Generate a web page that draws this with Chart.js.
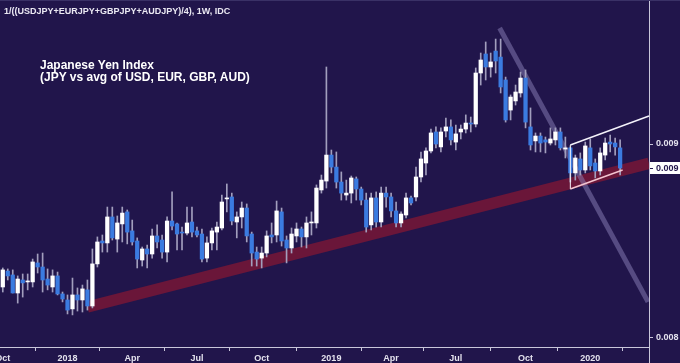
<!DOCTYPE html>
<html>
<head>
<meta charset="utf-8">
<script src="https://cdn.jsdelivr.net/npm/chart.js@4.4.1/dist/chart.umd.min.js"></script>
<style>
    html, body { margin: 0; padding: 0; background: #21154b; }
    #wrap { position: relative; width: 680px; height: 363px; }
    #chart { position: absolute; left: 0; top: 0; }
    .title { position: absolute; left: 4px; top: 7px; font: bold 9px/9px "Liberation Sans", Arial, sans-serif; color: #ebe9f3; white-space: nowrap; }
    .note { position: absolute; left: 40px; top: 59px; font: bold 12px/12px "Liberation Sans", Arial, sans-serif; color: #ffffff; white-space: nowrap; }
</style>
</head>
<body>
<div id="wrap">
    <canvas id="chart" width="680" height="363"></canvas>
    <div class="title">1/((USDJPY+EURJPY+GBPJPY+AUDJPY)/4), 1W, IDC</div>
    <div class="note">Japanese Yen Index<br>(JPY vs avg of USD, EUR, GBP, AUD)</div>
</div>
<script>
// weekly candles, first bar = week of 2 Oct 2017
const opens = [
    0.008263, 0.008345, 0.008325, 0.008232, 0.008299, 0.008289, 0.008289, 0.008387, 0.008366, 0.008304,
    0.008263, 0.008320, 0.008227, 0.008196, 0.008150, 0.008222, 0.008196, 0.008248, 0.008165, 0.008382,
    0.008500, 0.008490, 0.008624, 0.008510, 0.008588, 0.008650, 0.008552, 0.008500, 0.008402, 0.008459,
    0.008433, 0.008526, 0.008505, 0.008443, 0.008603, 0.008588, 0.008546, 0.008541, 0.008598, 0.008552,
    0.008536, 0.008412, 0.008490, 0.008546, 0.008567, 0.008717, 0.008727, 0.008598, 0.008624, 0.008670,
    0.008536, 0.008443, 0.008412, 0.008438, 0.008531, 0.008531, 0.008650, 0.008505, 0.008464, 0.008526,
    0.008562, 0.008521, 0.008593, 0.008593, 0.008763, 0.008809, 0.008943, 0.008881, 0.008804, 0.008737,
    0.008747, 0.008820, 0.008768, 0.008711, 0.008583, 0.008722, 0.008598, 0.008747, 0.008727, 0.008655,
    0.008593, 0.008634, 0.008722, 0.008727, 0.008830, 0.008902, 0.008964, 0.009062, 0.008985, 0.009067,
    0.009088, 0.009010, 0.009062, 0.009077, 0.009108, 0.009103, 0.009366, 0.009464, 0.009397, 0.009479,
    0.009448, 0.009330, 0.009175, 0.009222, 0.009263, 0.009340, 0.009088, 0.009016, 0.009041, 0.009021,
    0.009005, 0.009021, 0.009062, 0.008974, 0.008980, 0.008851, 0.008923, 0.008866, 0.008980, 0.008902,
    0.008861, 0.008943, 0.009010, 0.009005, 0.008980
];
const highs = [
    0.008361, 0.008356, 0.008351, 0.008320, 0.008330, 0.008330, 0.008407, 0.008433, 0.008438, 0.008356,
    0.008351, 0.008340, 0.008237, 0.008222, 0.008309, 0.008258, 0.008273, 0.008299, 0.008459, 0.008521,
    0.008531, 0.008675, 0.008675, 0.008629, 0.008675, 0.008660, 0.008608, 0.008516, 0.008469, 0.008479,
    0.008562, 0.008583, 0.008531, 0.008624, 0.008753, 0.008593, 0.008572, 0.008675, 0.008675, 0.008572,
    0.008562, 0.008521, 0.008567, 0.008598, 0.008737, 0.008794, 0.008747, 0.008650, 0.008701, 0.008691,
    0.008546, 0.008469, 0.008469, 0.008552, 0.008593, 0.008706, 0.008670, 0.008526, 0.008567, 0.008593,
    0.008572, 0.008624, 0.008650, 0.008789, 0.008840, 0.009397, 0.008969, 0.008959, 0.008856, 0.008814,
    0.008835, 0.008830, 0.008778, 0.008747, 0.008747, 0.008753, 0.008778, 0.008778, 0.008747, 0.008701,
    0.008650, 0.008747, 0.008732, 0.008881, 0.008959, 0.008980, 0.009077, 0.009088, 0.009083, 0.009134,
    0.009124, 0.009098, 0.009098, 0.009150, 0.009139, 0.009392, 0.009469, 0.009526, 0.009469, 0.009541,
    0.009541, 0.009345, 0.009253, 0.009304, 0.009371, 0.009382, 0.009186, 0.009057, 0.009057, 0.009036,
    0.009083, 0.009083, 0.009083, 0.009036, 0.008985, 0.008943, 0.008954, 0.009010, 0.009026, 0.008923,
    0.008980, 0.009031, 0.009046, 0.009031, 0.009021
];
const lows = [
    0.008237, 0.008299, 0.008232, 0.008180, 0.008211, 0.008248, 0.008263, 0.008335, 0.008237, 0.008248,
    0.008237, 0.008222, 0.008186, 0.008124, 0.008119, 0.008139, 0.008134, 0.008144, 0.008155, 0.008366,
    0.008443, 0.008443, 0.008505, 0.008443, 0.008495, 0.008485, 0.008479, 0.008361, 0.008371, 0.008361,
    0.008412, 0.008464, 0.008412, 0.008392, 0.008557, 0.008454, 0.008454, 0.008531, 0.008521, 0.008521,
    0.008392, 0.008392, 0.008454, 0.008454, 0.008557, 0.008650, 0.008583, 0.008516, 0.008567, 0.008495,
    0.008371, 0.008371, 0.008361, 0.008418, 0.008490, 0.008495, 0.008474, 0.008387, 0.008438, 0.008495,
    0.008469, 0.008464, 0.008531, 0.008567, 0.008747, 0.008773, 0.008851, 0.008773, 0.008711, 0.008711,
    0.008696, 0.008711, 0.008686, 0.008546, 0.008557, 0.008572, 0.008572, 0.008675, 0.008624, 0.008572,
    0.008572, 0.008619, 0.008686, 0.008706, 0.008804, 0.008840, 0.008954, 0.008980, 0.008959, 0.009036,
    0.008995, 0.008969, 0.009026, 0.009057, 0.009062, 0.009088, 0.009304, 0.009330, 0.009345, 0.009366,
    0.009263, 0.009113, 0.009124, 0.009201, 0.009242, 0.009083, 0.008969, 0.008959, 0.008959, 0.008954,
    0.008995, 0.008995, 0.008969, 0.008928, 0.008804, 0.008814, 0.008840, 0.008851, 0.008866, 0.008825,
    0.008840, 0.008918, 0.008959, 0.008943, 0.008840
];
const closes = [
    0.008351, 0.008320, 0.008232, 0.008304, 0.008284, 0.008294, 0.008392, 0.008366, 0.008299, 0.008273,
    0.008320, 0.008227, 0.008201, 0.008144, 0.008222, 0.008196, 0.008253, 0.008165, 0.008382, 0.008495,
    0.008490, 0.008624, 0.008516, 0.008593, 0.008644, 0.008546, 0.008495, 0.008407, 0.008459, 0.008433,
    0.008526, 0.008495, 0.008443, 0.008603, 0.008577, 0.008536, 0.008541, 0.008593, 0.008546, 0.008531,
    0.008407, 0.008490, 0.008552, 0.008572, 0.008701, 0.008722, 0.008603, 0.008624, 0.008670, 0.008526,
    0.008438, 0.008407, 0.008438, 0.008526, 0.008521, 0.008655, 0.008500, 0.008464, 0.008536, 0.008562,
    0.008521, 0.008593, 0.008598, 0.008773, 0.008814, 0.008943, 0.008881, 0.008804, 0.008747, 0.008747,
    0.008825, 0.008768, 0.008711, 0.008572, 0.008722, 0.008598, 0.008747, 0.008727, 0.008655, 0.008593,
    0.008639, 0.008722, 0.008696, 0.008830, 0.008923, 0.008964, 0.009057, 0.009000, 0.009062, 0.009088,
    0.009021, 0.009052, 0.009077, 0.009108, 0.009103, 0.009366, 0.009433, 0.009397, 0.009423, 0.009428,
    0.009294, 0.009124, 0.009242, 0.009268, 0.009340, 0.009113, 0.008995, 0.009041, 0.009005, 0.009010,
    0.009026, 0.009062, 0.008980, 0.008980, 0.008851, 0.008928, 0.008866, 0.008990, 0.008887, 0.008861,
    0.008954, 0.009005, 0.009000, 0.008985, 0.008876
];

// first bar of each period, as week number
const tickWeeks = [0, 13, 26, 39, 52, 66, 78, 91, 105, 118];
const tickLabels = ['Oct', '2018', 'Apr', 'Jul', 'Oct', '2019', 'Apr', 'Jul', 'Oct', '2020'];
const priceTicks = [0.008, 0.009];

// drawn lines, [week, price] pairs
const supportBand = [[17, 0.008160], [129.8, 0.008900]];
const downTrend = [[99.8, 0.009598], [129.6, 0.008186]];
const flagTop = [[114, 0.008995], [129.8, 0.009144]];
const flagSide = [[114, 0.008995], [114, 0.008768]];
const flagBottom = [[114, 0.008768], [124.5, 0.008866]];

const axisColor = '#c9c6da';
const upColor = '#ffffff';
const downColor = '#3b7be0';
const wickColor = '#a29ebd';

function drawSegment(chart, points, color, width) {
    const ctx = chart.ctx;
    const x = chart.scales.x, y = chart.scales.y;
    ctx.beginPath();
    ctx.moveTo(x.getPixelForValue(points[0][0]), y.getPixelForValue(points[0][1]));
    ctx.lineTo(x.getPixelForValue(points[1][0]), y.getPixelForValue(points[1][1]));
    ctx.strokeStyle = color;
    ctx.lineWidth = width;
    ctx.lineCap = 'butt';
    ctx.stroke();
}

const drawings = {
    id: 'drawings',
    beforeDatasetsDraw(chart) {
        const a = chart.chartArea, ctx = chart.ctx;
        ctx.save();
        ctx.beginPath();
        ctx.rect(a.left, a.top, a.right - a.left, a.bottom - a.top);
        ctx.clip();
        drawSegment(chart, supportBand, '#6a1639', 11.5);
        drawSegment(chart, downTrend, 'rgba(140, 130, 185, 0.5)', 5);
        ctx.restore();
    },
    afterDatasetsDraw(chart) {
        const ctx = chart.ctx;
        ctx.save();
        drawSegment(chart, flagTop, '#f4f2fa', 1.5);
        drawSegment(chart, flagSide, '#f4f2fa', 1);
        drawSegment(chart, flagBottom, '#f3c4d0', 1.5);
        ctx.restore();
    },
    afterDraw(chart) {
        const ctx = chart.ctx, a = chart.chartArea;
        ctx.save();
        // panel edges
        ctx.fillStyle = '#3a3166';
        ctx.fillRect(0, 0, chart.width, 1);
        ctx.fillStyle = axisColor;
        ctx.fillRect(a.right, a.bottom, 1, chart.height - a.bottom);
        // last price tag
        const last = closes[closes.length - 1];
        const py = Math.round(chart.scales.y.getPixelForValue(last));
        ctx.fillStyle = '#ffffff';
        ctx.fillRect(a.right + 1, py - 6, chart.width - a.right - 1, 12);
        ctx.fillStyle = '#21154b';
        ctx.fillRect(a.right + 1, py, 3, 1);
        ctx.font = 'bold 9px "Liberation Sans", Arial, sans-serif';
        ctx.textBaseline = 'middle';
        ctx.fillText(last.toFixed(3), a.right + 7, py + 0.5);
        ctx.restore();
    }
};

const weeks = opens.map((o, i) => i);
const bodyColors = weeks.map((i) => closes[i] >= opens[i] ? upColor : downColor);

new Chart(document.getElementById('chart').getContext('2d'), {
    type: 'bar',
    data: {
        datasets: [{
            label: 'wicks',
            data: weeks.map((i) => ({x: i, y: [lows[i], highs[i]]})),
            backgroundColor: wickColor,
            barThickness: 1,
            grouped: false,
            order: 2
        }, {
            label: 'bodies',
            data: weeks.map((i) => ({x: i, y: [opens[i], closes[i]]})),
            backgroundColor: bodyColors,
            barThickness: 3.6,
            minBarLength: 1,
            grouped: false,
            order: 1
        }]
    },
    options: {
        responsive: false,
        animation: false,
        layout: {padding: 0},
        plugins: {legend: {display: false}, tooltip: {enabled: false}},
        scales: {
            x: {
                type: 'linear',
                min: -0.56,
                max: 129.8,
                offset: false,
                border: {display: true, color: axisColor},
                grid: {drawOnChartArea: false, drawTicks: true, tickLength: 4, color: axisColor},
                ticks: {
                    autoSkip: false,
                    maxRotation: 0,
                    padding: 2,
                    color: '#e4e2ee',
                    font: {family: '"Liberation Sans", Arial, sans-serif', size: 9, weight: 'bold'},
                    callback: (value) => tickLabels[tickWeeks.indexOf(value)]
                },
                afterBuildTicks: (scale) => {
                    scale.ticks = tickWeeks.map((w) => ({value: w}));
                },
                afterFit: (scale) => {
                    scale.height = 16;
                    scale.paddingLeft = 0;
                    scale.paddingRight = 0;
                }
            },
            y: {
                position: 'right',
                min: 0.0079536,
                max: 0.0097423,
                border: {display: true, color: axisColor},
                grid: {drawOnChartArea: false, drawTicks: true, tickLength: 4, color: axisColor},
                ticks: {
                    padding: 3,
                    color: '#e4e2ee',
                    font: {family: '"Liberation Sans", Arial, sans-serif', size: 9, weight: 'bold'},
                    callback: (value) => value.toFixed(3)
                },
                afterBuildTicks: (scale) => {
                    scale.ticks = priceTicks.map((p) => ({value: p}));
                },
                afterFit: (scale) => {
                    scale.width = 31;
                    scale.paddingTop = 0;
                    scale.paddingBottom = 0;
                }
            }
        }
    },
    plugins: [drawings]
});
</script>
</body>
</html>
